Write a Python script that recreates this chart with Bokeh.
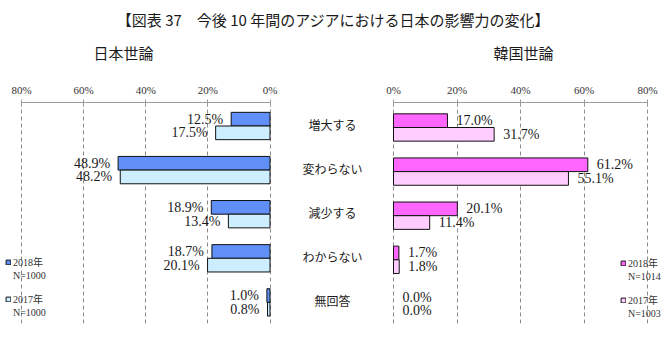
from bokeh.plotting import figure
from bokeh.models import (ColumnDataSource, Range1d, LinearAxis, FixedTicker, Legend,
                          LegendItem, Label, Grid)
from bokeh.transform import dodge
from bokeh.layouts import column, row
from bokeh.embed import file_html
from bokeh.resources import INLINE
from bokeh.core.properties import value

# ---------------- data ----------------
title_text = "【図表 37　今後 10 年間のアジアにおける日本の影響力の変化】"
panel_titles = ["日本世論", "韓国世論"]
categories = ["増大する", "変わらない", "減少する", "わからない", "無回答"]
japan_2018 = [12.5, 48.9, 18.9, 18.7, 1.0]
japan_2017 = [17.5, 48.2, 13.4, 20.1, 0.8]
korea_2018 = [17.0, 61.2, 20.1, 1.7, 0.0]
korea_2017 = [31.7, 55.1, 11.4, 1.8, 0.0]
legend_years = ["2018年", "2017年"]
japan_n = [1000, 1000]
korea_n = [1014, 1003]
tick_values = [0, 20, 40, 60, 80]
tick_labels = ["0%", "20%", "40%", "60%", "80%"]

# ---------------- layout constants ----------------
W, H = 670, 343
HEAD_H = 70
LW, RW = 290, 380
BODY_H = H - HEAD_H
TOP, BOTTOM = 32, 20            # frame top at page y 102, bottom at 323
PAGE_TOP = HEAD_H + TOP
PAGE_BOT = H - BOTTOM
CAT_STEP = 44.1
OFF, BH = 0.155, 0.31

NUM_FONT = "'Liberation Serif', 'Noto Sans CJK JP'"
JP_FONT = "'Noto Sans CJK JP'"
TXT = "#1a1a1a"
C = dict(j18="#5f8ff7", j17="#cceeff", k18="#ff66ff", k17="#ffccff")

# x ranges from pixel anchors
ls = 80 / (269.5 - 21)
l_start, l_end = 80 + 21 * ls, 0 - (LW - 269.5) * ls
rs = 80 / (357 - 103)
r_start, r_end = -103 * rs, 80 + (RW - 357) * rs


def yrange(center0):
    top = (PAGE_TOP - center0) / CAT_STEP
    bot = (PAGE_BOT - center0) / CAT_STEP
    return Range1d(start=bot, end=top)


def base_fig(w, xr, yr):
    f = figure(width=w, height=BODY_H, x_range=xr, y_range=yr, output_backend="svg",
               toolbar_location=None, x_axis_location=None, y_axis_location=None,
               min_border_left=0, min_border_right=0, min_border_top=TOP,
               min_border_bottom=BOTTOM, outline_line_color=None,
               background_fill_color="white", border_fill_color="white")
    f.center = [r for r in f.center if not isinstance(r, Grid)]
    f.add_layout(Grid(dimension=0, ticker=FixedTicker(ticks=tick_values),
                      grid_line_color="#8a8a8a", grid_line_dash="4 3",
                      grid_line_width=1))
    ax = LinearAxis(ticker=FixedTicker(ticks=tick_values), bounds=(0, 80),
                    major_label_overrides=dict(zip(tick_values, tick_labels)),
                    axis_line_color="#9a9a9a", major_tick_line_color="#9a9a9a",
                    major_tick_in=4, major_tick_out=3, minor_tick_line_color=None,
                    major_label_standoff=4, major_label_text_font="Liberation Serif",
                    major_label_text_font_size="11px", major_label_text_color="#333333")
    f.add_layout(ax, "above")
    return f


def make_source(v18, v17):
    return ColumnDataSource(dict(
        idx=list(range(len(categories))), cat=categories,
        v18=v18, v17=v17,
        t18=[f"{v:.1f}%" for v in v18], t17=[f"{v:.1f}%" for v in v17],
        a18=[1.0 if v > 0 else 0.0 for v in v18],
        a17=[1.0 if v > 0 else 0.0 for v in v17]))


def add_bars(f, src, c18, c17, align, xoff):
    r18 = f.hbar(y=dodge("idx", -OFF), left=0, right="v18", height=BH, source=src,
                 fill_color=c18, line_color="#111111", line_width=1, line_alpha="a18")
    r17 = f.hbar(y=dodge("idx", OFF), left=0, right="v17", height=BH, source=src,
                 fill_color=c17, line_color="#111111", line_width=1, line_alpha="a17")
    for key, sign in (("18", -1), ("17", 1)):
        f.text(x="v" + key, y=dodge("idx", sign * OFF), text="t" + key, source=src,
               text_align=align, text_baseline="middle", x_offset=xoff,
               text_font=value("Liberation Serif"), text_font_size="14px",
               text_color=TXT)
    return r18, r17


def add_legends(f, r18, r17, ns, locs):
    for r, yr, n, loc in zip([r18, r17], legend_years, ns, locs):
        lg = Legend(items=[LegendItem(label=yr, renderers=[r]),
                           LegendItem(label=f"N={n}", renderers=[])],
                    location=loc, orientation="vertical", glyph_width=6,
                    glyph_height=6, label_height=12, label_standoff=2, spacing=0,
                    padding=0, margin=0, background_fill_alpha=0,
                    border_line_alpha=0, label_text_font=NUM_FONT,
                    label_text_font_size="10px", label_text_color="#333333")
        f.add_layout(lg)


# ---------------- header ----------------
head = figure(width=W, height=HEAD_H, x_range=Range1d(0, W), y_range=Range1d(HEAD_H, 0),
              output_backend="svg", toolbar_location=None, x_axis_location=None,
              y_axis_location=None, min_border=0, outline_line_color=None)
head.grid.visible = False
head.add_layout(Label(x=333, y=19, text=title_text, text_align="center",
                      text_baseline="middle", text_font=JP_FONT,
                      text_font_size="15px", text_color=TXT))
for txt, cx in zip(panel_titles, [123, 523]):
    head.add_layout(Label(x=cx, y=52, text=txt, text_align="center",
                          text_baseline="middle", text_font=JP_FONT,
                          text_font_size="15px", text_color=TXT))

# ---------------- left (Japan) ----------------
left = base_fig(LW, Range1d(l_start, l_end), yrange(125.5))
src_l = make_source(japan_2018, japan_2017)
lr18, lr17 = add_bars(left, src_l, C["j18"], C["j17"], "right", -8)
add_legends(left, lr18, lr17, japan_n, [(5, 42), (5, 5)])

# ---------------- right (Korea) ----------------
right = base_fig(RW, Range1d(r_start, r_end), yrange(127))
src_r = make_source(korea_2018, korea_2017)
rr18, rr17 = add_bars(right, src_r, C["k18"], C["k17"], "left", 9)
cat_x = r_start + 42 * rs
right.text(x=cat_x, y="idx", text="cat", source=src_r, y_offset=-3,
           text_align="center", text_baseline="middle",
           text_font=value("Noto Sans CJK JP"), text_font_size="12px", text_color=TXT)
add_legends(right, rr18, rr17, korea_n, [(330, 41), (330, 4)])

layout = column(head, row(left, right))
open("out.html", "w").write(file_html(layout, INLINE))
